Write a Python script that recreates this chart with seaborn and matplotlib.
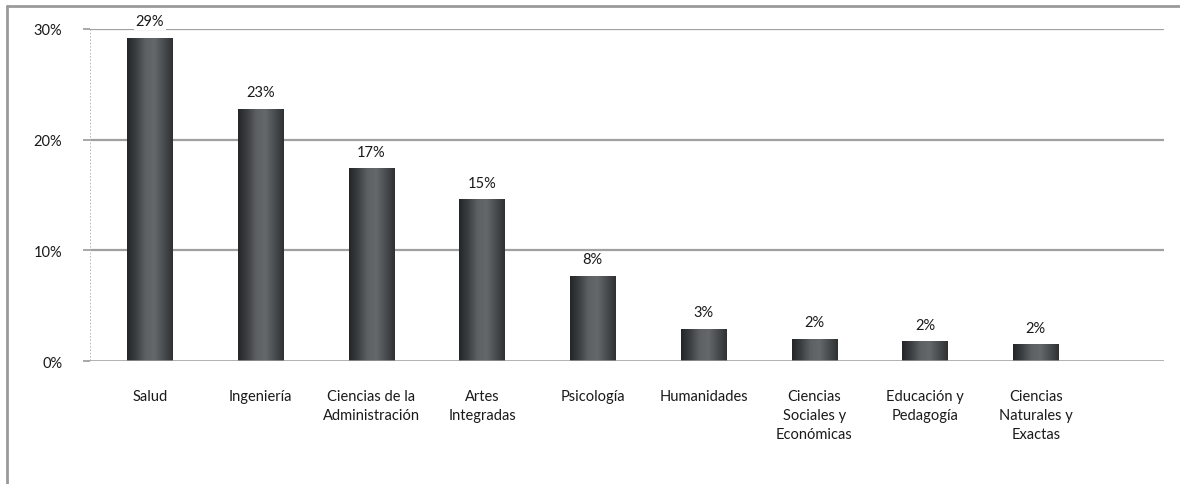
import matplotlib.pyplot as plt
import matplotlib.lines as mlines
from matplotlib.colors import LinearSegmentedColormap
import numpy as np
import pandas as pd
import seaborn as sns

# Data
categorias = ['Salud', 'Ingeniería', 'Ciencias de la\nAdministración', 'Artes\nIntegradas',
              'Psicología', 'Humanidades', 'Ciencias\nSociales y\nEconómicas',
              'Educación y\nPedagogía', 'Ciencias\nNaturales y\nExactas']
valores = [0.292, 0.228, 0.174, 0.146, 0.077, 0.029, 0.020, 0.018, 0.015]
etiquetas = ['29%', '23%', '17%', '15%', '8%', '3%', '2%', '2%', '2%']

df = pd.DataFrame({'area': categorias, 'valor': valores})

sns.set_style('white')
plt.rcParams['font.family'] = ['Lato', 'DejaVu Sans']

fig = plt.figure(figsize=(11.8, 4.85), dpi=100)
ax = fig.add_axes([0.0763, 0.2536, 0.9103, 0.6848])

sns.barplot(data=df, x='area', y='valor', color='#3a3d3f', width=0.41, ax=ax, zorder=3)

# cylinder-like shading on each bar
cmap = LinearSegmentedColormap.from_list(
    'cyl', ['#232527', '#3c3f41', '#5d6163', '#64686a', '#4a4d4f', '#2e3032'])
grad = np.linspace(0, 1, 256).reshape(1, -1)
for p in ax.patches:
    x0, y0 = p.get_x(), p.get_y()
    w, h = p.get_width(), p.get_height()
    p.set_facecolor('none')
    p.set_edgecolor('none')
    im = ax.imshow(grad, cmap=cmap, aspect='auto', extent=[x0, x0 + w, y0, y0 + h],
                   zorder=3, interpolation='bicubic')
    im.set_clip_path(p)

ax.set_xlim(-0.54, 9.16)
ax.set_ylim(0, 0.30)
ax.set_yticks([0, 0.1, 0.2, 0.3])
ax.set_yticklabels(['0%', '10%', '20%', '30%'])
ax.set_xlabel('')
ax.set_ylabel('')

for s in ['top', 'right', 'left', 'bottom']:
    ax.spines[s].set_visible(False)

# gridlines and baseline
for yv in [0.1, 0.2, 0.3]:
    ax.axhline(yv, color='#a0a0a0', lw=1.6, zorder=1)
ax.axhline(0, color='#9a9a9a', lw=1.8, zorder=4)
ax.axvline(-0.54, color='#b0b0b0', lw=1.2, ls=(0, (1, 1)), zorder=1)

ax.tick_params(axis='y', length=5, width=1.2, color='#9a9a9a', pad=15, labelsize=10.5,
               labelcolor='#1a1a1a', left=True)
ax.tick_params(axis='x', length=0, pad=20, labelsize=10.5, labelcolor='#1a1a1a')
for t in ax.get_xticklabels():
    t.set_linespacing(1.45)
    t.set_verticalalignment('top')

# value labels
for i, (v, lab) in enumerate(zip(valores, etiquetas)):
    kw = {}
    if i == 0:
        kw['bbox'] = dict(facecolor='white', edgecolor='none', pad=1)
    ax.text(i, v + 0.0085, lab, ha='center', va='bottom', fontsize=10.5,
            color='#1a1a1a', clip_on=False, zorder=5, **kw)

# outer frame: only top and left edges are visible in the reference
fig.add_artist(mlines.Line2D([7 / 1180, 1.0], [1 - 7 / 485, 1 - 7 / 485],
                             transform=fig.transFigure, color='#9a9a9a', lw=2))
fig.add_artist(mlines.Line2D([7 / 1180, 7 / 1180], [1 - 7 / 485, 0.0],
                             transform=fig.transFigure, color='#9a9a9a', lw=2))

fig.savefig('out.png', dpi=100)
